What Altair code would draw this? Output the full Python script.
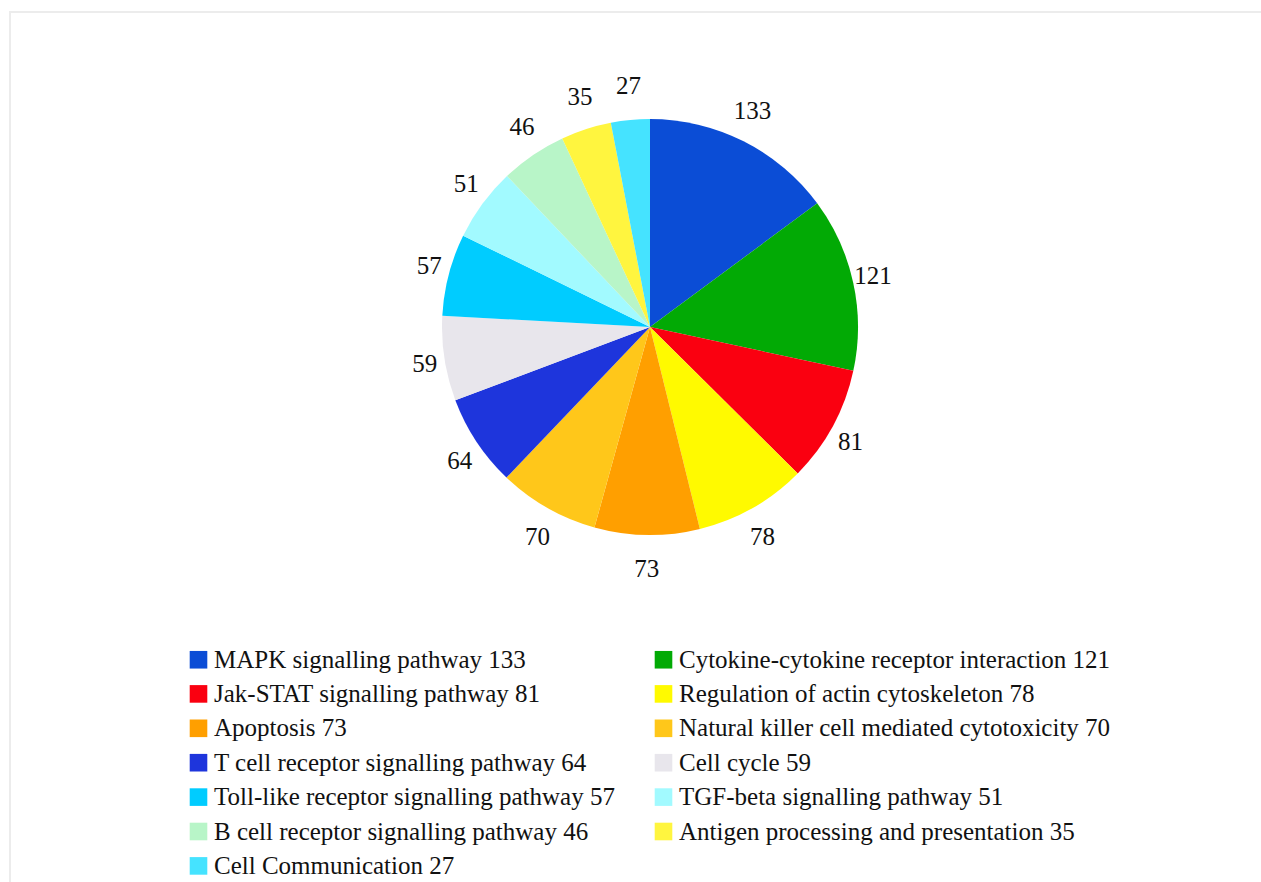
import altair as alt
import pandas as pd

pathways = [
    "MAPK signalling pathway",
    "Cytokine-cytokine receptor interaction",
    "Jak-STAT signalling pathway",
    "Regulation of actin cytoskeleton",
    "Apoptosis",
    "Natural killer cell mediated cytotoxicity",
    "T cell receptor signalling pathway",
    "Cell cycle",
    "Toll-like receptor signalling pathway",
    "TGF-beta signalling pathway",
    "B cell receptor signalling pathway",
    "Antigen processing and presentation",
    "Cell Communication",
]
counts = [133, 121, 81, 78, 73, 70, 64, 59, 57, 51, 46, 35, 27]
colors = [
    "#0B4DD6", "#02AA05", "#FA0010", "#FFFA00", "#FF9F00", "#FFC71A",
    "#1E35DC", "#E8E6EC", "#00CCFF", "#A2FAFF", "#B8F5C8", "#FFF53F", "#45E3FF",
]

labels = [f"{p} {c}" for p, c in zip(pathways, counts)]
df = pd.DataFrame({"label": labels, "count": counts, "idx": list(range(len(counts)))})

# legend is filled column by column: even entries first, odd ones second
leg_order = list(range(0, len(labels), 2)) + list(range(1, len(labels), 2))
leg_labels = [labels[i] for i in leg_order]
leg_colors = [colors[i] for i in leg_order]

FONT = "Liberation Serif"
CX, CY, R = 650, 326, 208
RX, RY = 228, 242

color = alt.Color(
    "label:N",
    scale=alt.Scale(domain=leg_labels, range=leg_colors),
    sort=leg_labels,
    legend=alt.Legend(
        title=None,
        orient="none",
        legendX=186,
        legendY=647,
        columns=2,
        columnPadding=36,
        rowPadding=8.4,
        symbolType="square",
        symbolSize=310,
        symbolStrokeWidth=0,
        labelFont=FONT,
        labelFontSize=25,
        labelColor="#111111",
        labelLimit=700,
        labelOffset=3,
    ),
)

pie = alt.Chart(df).mark_arc(outerRadius=R, stroke=None).encode(
    theta=alt.Theta("count:Q", stack=True),
    order=alt.Order("idx:Q", sort="ascending"),
    color=color,
    x=alt.value(CX),
    y=alt.value(CY + 1),
)

text = (
    alt.Chart(df)
    .transform_joinaggregate(total="sum(count)")
    .transform_window(cum="sum(count)", sort=[alt.SortField("idx", order="ascending")])
    .transform_calculate(ang="2*PI*(datum.cum - datum.count/2)/datum.total")
    .transform_calculate(
        px=f"{CX} + {RX}*sin(datum.ang)",
        py=f"{CY + 1} - {RY}*cos(datum.ang)",
    )
    .mark_text(font=FONT, fontSize=25, color="#111111", align="center", baseline="middle")
    .encode(
        x=alt.X("px:Q", scale=None, axis=None),
        y=alt.Y("py:Q", scale=None, axis=None),
        text=alt.Text("count:Q"),
    )
)

frame = alt.Chart(pd.DataFrame({"a": [0]})).mark_rect(
    fill=None, stroke="#ECECEC", strokeWidth=2
).encode(
    x=alt.value(10), x2=alt.value(1280), y=alt.value(12), y2=alt.value(900)
)

chart = alt.layer(frame, pie, text).properties(
    width=1261, height=882, autosize="none", padding=0, background="white"
).configure_view(stroke=None)

chart.save("out.html", embed_options={"renderer": "svg", "actions": False})
